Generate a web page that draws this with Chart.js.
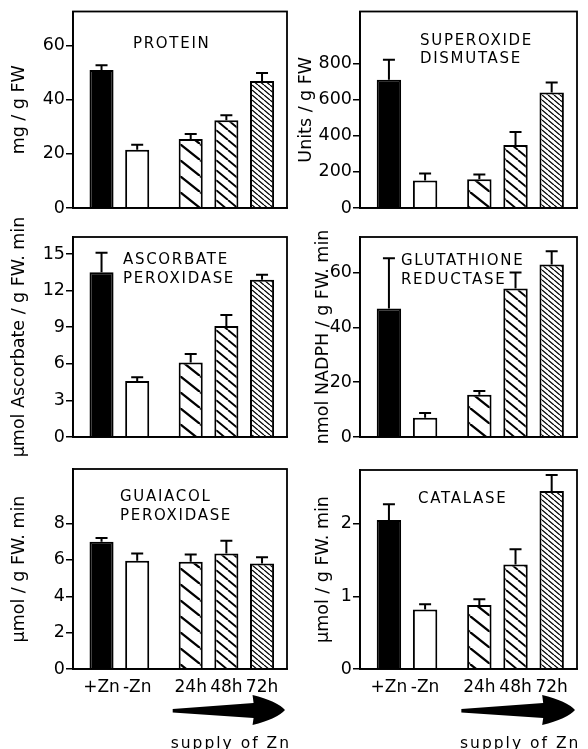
<!DOCTYPE html>
<html>
<head>
<meta charset="utf-8">
<script src="https://cdn.jsdelivr.net/npm/chart.js@4.4.1/dist/chart.umd.min.js"></script>
<style>
html, body { margin: 0; padding: 0; background: #fff; }
body { width: 588px; height: 749px; position: relative; overflow: hidden; }
canvas { position: absolute; }
</style>
</head>
<body>
<canvas id="cProtein" width="292" height="232" style="left:0;top:0"></canvas>
<canvas id="cSod" width="298" height="232" style="left:290px;top:0"></canvas>
<canvas id="cApx" width="292" height="262" style="left:0;top:200px"></canvas>
<canvas id="cGr" width="298" height="262" style="left:290px;top:200px"></canvas>
<canvas id="cGpx" width="292" height="309" style="left:0;top:440px"></canvas>
<canvas id="cCat" width="298" height="309" style="left:290px;top:440px"></canvas>
<script>
// Zn deficiency / resupply - six enzyme panels
var categories = ['+Zn', '-Zn', '24h', '48h', '72h'];
var xPos = [0, 1, 2.5, 3.5, 4.5];
var arrowText = 'supply of Zn';

var proteinVals = [50.9, 21.5, 25.5, 32.4, 46.9];
var proteinErr = [1.8, 1.8, 1.8, 1.8, 2.9];
var proteinTicks = [0, 20, 40, 60];

var sodVals = [712, 153, 159, 350, 641];
var sodErr = [110, 39, 27, 72, 55];
var sodTicks = [0, 200, 400, 600, 800];

var apxVals = [13.5, 4.6, 6.1, 9.1, 12.9];
var apxErr = [1.6, 0.3, 0.7, 0.9, 0.4];
var apxTicks = [0, 3, 6, 9, 12, 15];

var grVals = [46.9, 7.0, 15.4, 54.2, 63.0];
var grErr = [18.3, 1.8, 1.4, 5.8, 4.8];
var grTicks = [0, 20, 40, 60];

var gpxVals = [7.0, 5.95, 5.9, 6.35, 5.8];
var gpxErr = [0.2, 0.4, 0.4, 0.7, 0.35];
var gpxTicks = [0, 2, 4, 6, 8];

var catVals = [2.05, 0.82, 0.88, 1.44, 2.45];
var catErr = [0.22, 0.07, 0.08, 0.21, 0.22];
var catTicks = [0, 1, 2];

Chart.defaults.font.family = '"DejaVu Sans", sans-serif';
Chart.defaults.color = '#000';

// diagonal hatch, one "\" line per tile
function hatch(w, h, lw) {
    var c = document.createElement('canvas');
    c.width = w; c.height = h;
    var g = c.getContext('2d');
    g.fillStyle = '#fff';
    g.fillRect(0, 0, w, h);
    g.strokeStyle = '#000';
    g.lineWidth = lw;
    g.beginPath();
    for (var k = -1; k <= 1; k++) {
        g.moveTo(k * w, 0);
        g.lineTo(k * w + w, h);
    }
    g.stroke();
    return g.createPattern(c, 'repeat');
}
var fills = ['#000', '#fff', hatch(20, 16, 2.2), hatch(12, 10, 1.9), hatch(6, 5, 1.3)];

var frame = {
    id: 'frame',
    afterDraw: function (chart) {
        var a = chart.chartArea, ctx = chart.ctx;
        ctx.save();
        ctx.strokeStyle = '#000';
        ctx.lineWidth = 1.8;
        ctx.strokeRect(a.left, a.top, a.right - a.left, a.bottom - a.top);
        ctx.restore();
    }
};

var errorBars = {
    id: 'errorBars',
    afterDatasetsDraw: function (chart) {
        var ctx = chart.ctx, y = chart.scales.y;
        var ds = chart.data.datasets[0];
        var meta = chart.getDatasetMeta(0);
        ctx.save();
        ctx.strokeStyle = '#000';
        ctx.lineWidth = 2;
        meta.data.forEach(function (bar, i) {
            var top = y.getPixelForValue(ds.data[i].y + ds.errors[i]);
            ctx.beginPath();
            ctx.moveTo(bar.x, bar.y);
            ctx.lineTo(bar.x, top);
            ctx.moveTo(bar.x - 6, top);
            ctx.lineTo(bar.x + 6, top);
            ctx.stroke();
        });
        ctx.restore();
    }
};

var panelLabel = {
    id: 'panelLabel',
    afterDraw: function (chart, args, opts) {
        var a = chart.chartArea, ctx = chart.ctx;
        ctx.save();
        ctx.font = '15px "DejaVu Sans"';
        ctx.letterSpacing = '1.7px';
        ctx.fillStyle = '#000';
        ctx.textBaseline = 'alphabetic';
        opts.lines.forEach(function (t, i) {
            ctx.fillText(t, a.left + opts.dx, a.top + opts.dy + 11 + i * 18.5);
        });
        ctx.restore();
    }
};

var supplyArrow = {
    id: 'supplyArrow',
    afterDraw: function (chart, args, opts) {
        if (!opts.show) return;
        var a = chart.chartArea, ctx = chart.ctx;
        var x0 = chart.scales.x.getPixelForValue(xPos[2]) - 18;
        var x1 = a.right - 2;
        var yc = a.bottom + 41;
        var xj = x0 + (x1 - x0) * 0.72;
        ctx.save();
        ctx.fillStyle = '#000';
        ctx.beginPath();
        ctx.moveTo(x0, yc - 1);
        ctx.lineTo(xj, yc - 7);
        ctx.lineTo(xj - 1, yc - 15);
        ctx.quadraticCurveTo(x1 - 8, yc - 9, x1, yc);
        ctx.quadraticCurveTo(x1 - 8, yc + 9, xj - 1, yc + 15);
        ctx.lineTo(xj, yc + 8);
        ctx.lineTo(x0, yc + 2.5);
        ctx.closePath();
        ctx.fill();
        ctx.font = '15.5px "DejaVu Sans"';
        ctx.letterSpacing = '2px';
        ctx.textAlign = 'center';
        ctx.fillText(arrowText, (x0 + x1) / 2 + 2, a.bottom + 79);
        ctx.restore();
    }
};

function makePanel(id, o) {
    return new Chart(document.getElementById(id), {
        type: 'bar',
        data: {
            datasets: [{
                data: o.vals.map(function (v, i) { return {x: xPos[i], y: v}; }),
                errors: o.err,
                backgroundColor: fills,
                borderColor: '#000',
                borderWidth: 2,
                borderSkipped: 'start',
                barPercentage: 0.75,
                categoryPercentage: 0.9
            }]
        },
        options: {
            responsive: false,
            animation: false,
            events: [],
            layout: {padding: {left: 0, right: o.padR, top: o.padT, bottom: 0}},
            plugins: {
                legend: {display: false},
                tooltip: {enabled: false},
                panelLabel: {lines: o.label, dx: o.labelX, dy: o.labelY},
                supplyArrow: {show: o.bottom}
            },
            scales: {
                x: {
                    type: 'linear',
                    min: -0.8,
                    max: 5.2,
                    offset: false,
                    grid: {display: false, drawTicks: false},
                    border: {display: true, color: '#000', width: 1.8},
                    afterBuildTicks: function (s) {
                        s.ticks = xPos.map(function (v) { return {value: v}; });
                    },
                    ticks: {
                        display: o.bottom,
                        autoSkip: false,
                        maxRotation: 0,
                        padding: 8,
                        font: {size: 17},
                        callback: function (v, i) { return categories[i]; }
                    },
                    afterFit: function (s) { s.height = o.xH; }
                },
                y: {
                    min: 0,
                    max: o.max,
                    afterBuildTicks: function (s) {
                        s.ticks = o.ticks.map(function (v) { return {value: v}; });
                    },
                    grid: {drawOnChartArea: false, drawTicks: true, tickLength: 7, color: '#000', lineWidth: 1.5},
                    border: {display: true, color: '#000', width: 1.8},
                    ticks: {padding: 1, font: {size: 17.5}},
                    title: {display: true, text: o.title, font: {size: 17.5}, padding: {top: o.titlePad, bottom: 0}},
                    afterFit: function (s) { s.width = o.yW; }
                }
            }
        },
        plugins: [frame, errorBars, panelLabel, supplyArrow]
    });
}

makePanel('cProtein', {vals: proteinVals, err: proteinErr, ticks: proteinTicks, max: 72.5,
    title: 'mg / g FW', titlePad: 9, label: ['PROTEIN'], labelX: 60, labelY: 25,
    yW: 73, padR: 5, padT: 9, xH: 24, bottom: false});
makePanel('cSod', {vals: sodVals, err: sodErr, ticks: sodTicks, max: 1090,
    title: 'Units / g FW', titlePad: 6, label: ['SUPEROXIDE', 'DISMUTASE'], labelX: 60, labelY: 22,
    yW: 70, padR: 11, padT: 9, xH: 24, bottom: false});
makePanel('cApx', {vals: apxVals, err: apxErr, ticks: apxTicks, max: 16.4,
    title: 'µmol Ascorbate / g FW. min', titlePad: 9, label: ['ASCORBATE', 'PEROXIDASE'], labelX: 50, labelY: 16,
    yW: 73, padR: 5, padT: 37, xH: 25, bottom: false});
makePanel('cGr', {vals: grVals, err: grErr, ticks: grTicks, max: 73,
    title: 'nmol NADPH / g FW. min', titlePad: 23, label: ['GLUTATHIONE', 'REDUCTASE'], labelX: 41, labelY: 17,
    yW: 70, padR: 11, padT: 37, xH: 25, bottom: false});
makePanel('cGpx', {vals: gpxVals, err: gpxErr, ticks: gpxTicks, max: 11,
    title: 'µmol / g FW. min', titlePad: 9, label: ['GUAIACOL', 'PEROXIDASE'], labelX: 47, labelY: 21,
    yW: 73, padR: 5, padT: 29, xH: 80, bottom: true});
makePanel('cCat', {vals: catVals, err: catErr, ticks: catTicks, max: 2.74,
    title: 'µmol / g FW. min', titlePad: 23, label: ['CATALASE'], labelX: 58, labelY: 22,
    yW: 70, padR: 11, padT: 30, xH: 80, bottom: true});
</script>
</body>
</html>
